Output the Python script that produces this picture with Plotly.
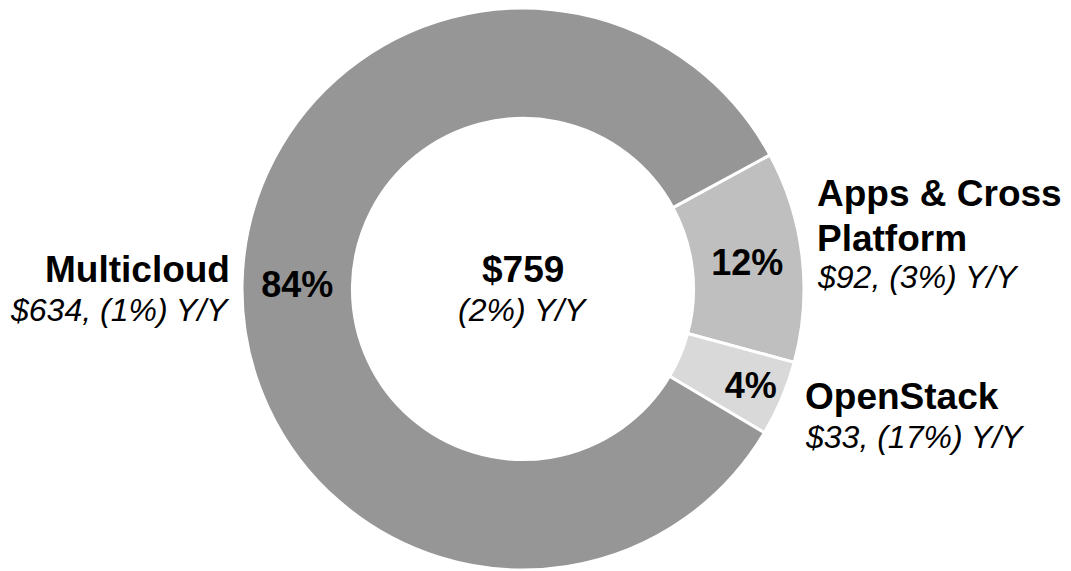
import plotly.graph_objects as go

# ---- data ----
segments = ["Apps & Cross Platform", "OpenStack", "Multicloud"]
revenue = [92, 33, 634]
yoy_labels = ["(3%) Y/Y", "(17%) Y/Y", "(1%) Y/Y"]
total_label = "$759"
total_yoy = "(2%) Y/Y"
colors = ["#bfbfbf", "#d9d9d9", "#969696"]

W, H = 1071, 571
OFF = 8  # page body margin offset
FONT = "Liberation Sans, Arial, Helvetica, sans-serif"
BOLD = 37
ITAL = 32

cx = (523 - OFF) / W
fig = go.Figure(go.Pie(
    labels=segments,
    values=revenue,
    sort=False,
    direction="clockwise",
    rotation=61.5,
    hole=0.607,
    marker=dict(colors=colors, line=dict(color="white", width=3)),
    texttemplate="<b>%{percent:.0%}</b>",
    textposition="inside",
    insidetextorientation="horizontal",
    textfont=dict(family=FONT, size=36, color="black"),
    showlegend=False,
    hoverinfo="label+value+percent",
    domain=dict(x=[cx - 0.3, cx + 0.3], y=[1 - 562 / H, 1]),
))

def px(x, y):
    return (x - OFF) / W, 1 - (y - OFF) / H

# label layout: (text-lines, anchor x px (page), [line center y px (page)], xanchor)
label_specs = [
    (["Apps & Cross", "Platform"], 815, [193, 238, 277], "left"),
    (["OpenStack"], 803, [396, 437], "left"),
    (["Multicloud"], 232, [269, 310], "right"),
]

annotations = []
for (lines, ax, ys, xa), val, yoy in zip(label_specs, revenue, yoy_labels):
    for i, ln in enumerate(lines):
        x, y = px(ax, ys[i])
        annotations.append(dict(x=x, y=y, xref="paper", yref="paper",
                                text=f"<b>{ln}</b>", showarrow=False,
                                xanchor=xa, yanchor="middle",
                                font=dict(family=FONT, size=BOLD, color="black")))
    x, y = px(ax, ys[-1])
    annotations.append(dict(x=x, y=y, xref="paper", yref="paper",
                            text=f"<i>${val}, {yoy}</i>", showarrow=False,
                            xanchor=xa, yanchor="middle",
                            font=dict(family=FONT, size=ITAL, color="black")))

# center text
x, y = px(523, 269)
annotations.append(dict(x=x, y=y, xref="paper", yref="paper", text=f"<b>{total_label}</b>",
                        showarrow=False, xanchor="center", yanchor="middle",
                        font=dict(family=FONT, size=BOLD, color="black")))
x, y = px(523, 310)
annotations.append(dict(x=x, y=y, xref="paper", yref="paper", text=f"<i>{total_yoy}</i>",
                        showarrow=False, xanchor="center", yanchor="middle",
                        font=dict(family=FONT, size=ITAL, color="black")))

fig.update_layout(
    width=W, height=H,
    margin=dict(l=0, r=0, t=0, b=0),
    paper_bgcolor="white",
    plot_bgcolor="white",
    annotations=annotations,
)

fig.write_html("out.html")
